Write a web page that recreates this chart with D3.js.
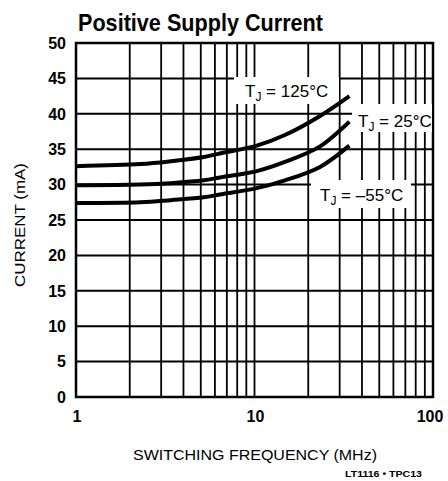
<!DOCTYPE html>
<html>
<head>
<meta charset="utf-8">
<script src="https://cdn.jsdelivr.net/npm/d3@7"></script>
<style>
  body { margin: 0; background: #fff; }
  svg { display: block; }
</style>
</head>
<body>
<div id="chart"></div>
<script>
// switching frequency (MHz) and supply current (mA) per junction temp
var freqMHz = [1, 2.3, 3.4, 5.2, 6.4, 10.3, 14.8, 23.3, 34];
var currentTj125 = [32.6, 32.9, 33.3, 33.9, 34.4, 35.5, 37.0, 39.7, 42.5];
var currentTj25 = [29.9, 30.0, 30.2, 30.6, 31.0, 31.9, 33.2, 35.4, 38.9];
var currentTjM55 = [27.4, 27.5, 27.8, 28.2, 28.6, 29.5, 30.6, 32.5, 35.5];
var xTickLabels = [1, 10, 100];
var yTickValues = [0, 5, 10, 15, 20, 25, 30, 35, 40, 45, 50];

var width = 448, height = 481;
var margin = {top: 43, right: 15, bottom: 84, left: 76};
var sans = "'Liberation Sans', Arial, Helvetica, sans-serif";

var svg = d3.select("#chart").append("svg")
    .attr("width", width)
    .attr("height", height);

var xScale = d3.scaleLog()
    .domain([1, 100])
    .range([margin.left, width - margin.right]);

var yScale = d3.scaleLinear()
    .domain([0, 50])
    .range([height - margin.bottom, margin.top]);

// title
svg.append("text")
    .attr("x", 78)
    .attr("y", 31)
    .style("font", "bold 24px " + sans)
    .attr("textLength", 245)
    .attr("lengthAdjust", "spacingAndGlyphs")
    .text("Positive Supply Current");

// grid
var grid = svg.append("g").attr("stroke", "#000");

grid.selectAll(".vline")
    .data(xScale.ticks())
    .enter().append("line")
    .attr("class", "vline")
    .attr("x1", d => xScale(d))
    .attr("x2", d => xScale(d))
    .attr("y1", yScale(0))
    .attr("y2", yScale(50))
    .attr("stroke-width", 1.8);

grid.selectAll(".hline")
    .data(yTickValues)
    .enter().append("line")
    .attr("class", "hline")
    .attr("x1", xScale(1))
    .attr("x2", xScale(100))
    .attr("y1", d => yScale(d))
    .attr("y2", d => yScale(d))
    .attr("stroke-width", 2);

svg.append("rect")
    .attr("x", xScale(1))
    .attr("y", yScale(50))
    .attr("width", xScale(100) - xScale(1))
    .attr("height", yScale(0) - yScale(50))
    .attr("fill", "none")
    .attr("stroke", "#000")
    .attr("stroke-width", 2.5);

// y tick labels
svg.selectAll(".ylab")
    .data(yTickValues)
    .enter().append("text")
    .attr("class", "ylab")
    .attr("x", 66)
    .attr("y", d => yScale(d))
    .attr("dy", "0.36em")
    .attr("text-anchor", "end")
    .style("font", "bold 16px " + sans)
    .text(d => d);

// x tick labels
svg.selectAll(".xlab")
    .data(xTickLabels)
    .enter().append("text")
    .attr("class", "xlab")
    .attr("x", d => xScale(d) + (d === 100 ? -3 : 1))
    .attr("y", 422)
    .attr("text-anchor", "middle")
    .style("font", "bold 16px " + sans)
    .text(d => d);

// axis titles
svg.append("text")
    .attr("x", 255)
    .attr("y", 460)
    .attr("text-anchor", "middle")
    .style("font", "15px " + sans)
    .attr("textLength", 244)
    .attr("lengthAdjust", "spacingAndGlyphs")
    .text("SWITCHING FREQUENCY (MHz)");

svg.append("text")
    .attr("transform", "translate(25,225) rotate(-90)")
    .attr("text-anchor", "middle")
    .style("font", "15px " + sans)
    .attr("textLength", 124)
    .attr("lengthAdjust", "spacingAndGlyphs")
    .text("CURRENT (mA)");

svg.append("text")
    .attr("x", 345)
    .attr("y", 477)
    .style("font", "bold 9px " + sans)
    .attr("textLength", 77)
    .attr("lengthAdjust", "spacingAndGlyphs")
    .text("LT1116 • TPC13");

// temperature labels with white backing
var tLabels = [
    {txt: " = 125°C", x: 245, y: 97, box: [234, 77, 105, 27]},
    {txt: " = 25°C", x: 358, y: 127, box: [352, 104, 80, 28]},
    {txt: " = –55°C", x: 320, y: 201, box: [311, 180, 100, 28]}
];

svg.selectAll(".tbox")
    .data(tLabels)
    .enter().append("rect")
    .attr("class", "tbox")
    .attr("x", d => d.box[0])
    .attr("y", d => d.box[1])
    .attr("width", d => d.box[2])
    .attr("height", d => d.box[3])
    .attr("fill", "#fff");

// curves
var series = [currentTj125, currentTj25, currentTjM55];
var lineGen = d3.line()
    .x((d, i) => xScale(freqMHz[i]))
    .y(d => yScale(d))
    .curve(d3.curveCatmullRom.alpha(0.5));

svg.selectAll(".curve")
    .data(series)
    .enter().append("path")
    .attr("class", "curve")
    .attr("d", d => lineGen(d))
    .attr("fill", "none")
    .attr("stroke", "#000")
    .attr("stroke-width", 4);

var lt = svg.selectAll(".tlab")
    .data(tLabels)
    .enter().append("text")
    .attr("class", "tlab")
    .attr("x", d => d.x)
    .attr("y", d => d.y)
    .style("font", "17px " + sans);
lt.append("tspan").text("T");
lt.append("tspan").attr("dy", 4).style("font-size", "12px").text("J");
lt.append("tspan").attr("dy", -4).text(d => d.txt);
</script>
</body>
</html>
